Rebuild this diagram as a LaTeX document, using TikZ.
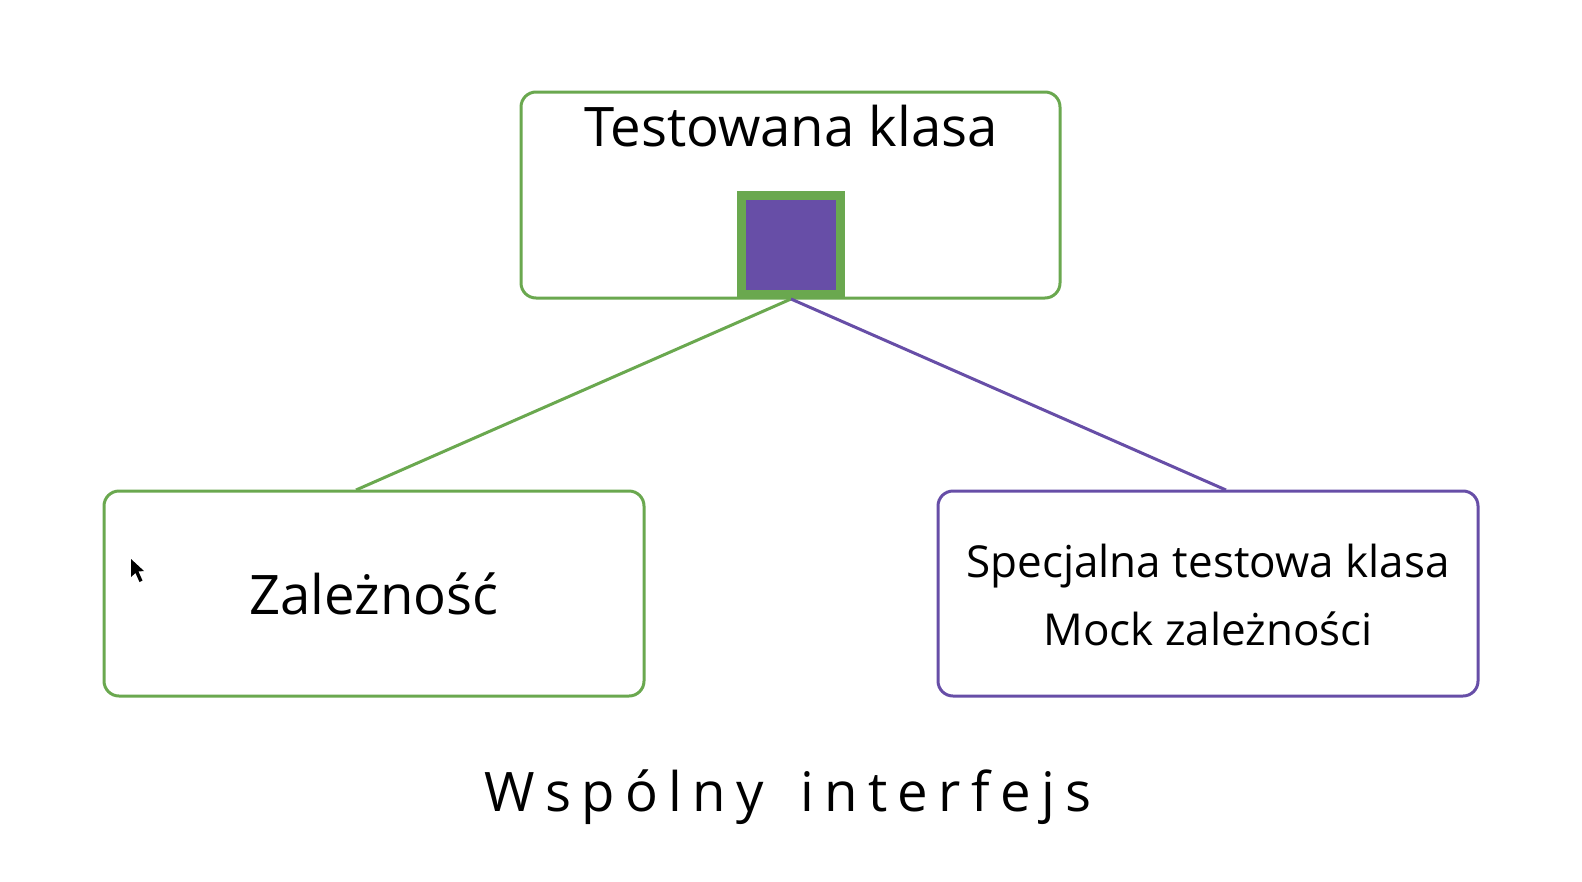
\documentclass[tikz,border=0pt]{standalone}
\usepackage{fontspec}
\setmainfont{Open Sans}
\newfontfamily\spacedfont[LetterSpace=19]{Open Sans}
\definecolor{gr}{HTML}{6AA84F}
\definecolor{pu}{HTML}{674EA7}
\begin{document}
\begin{tikzpicture}[x=1pt,y=-1pt,
  boxg/.style={draw=gr,line width=3pt,rounded corners=15pt},
  boxp/.style={draw=pu,line width=3pt,rounded corners=15pt},
  lbl/.style={inner sep=0pt,font=\fontsize{54.5}{66}\selectfont}]
\useasboundingbox (0,0) rectangle (1582,881);
\draw[boxg] (521,92) rectangle (1060,298);
\filldraw[fill=pu,draw=gr,line width=9pt] (741.5,195.5) rectangle (840.5,294.5);
\coordinate (sq) at (791,299);
\draw[boxg] (104,491) rectangle (644,696);
\draw[boxp] (938,491) rectangle (1478,696);
\coordinate (lt) at (356,490);
\coordinate (rt) at (1226,490);
\draw[gr,line width=3pt] (sq) -- (lt);
\draw[pu,line width=3pt] (sq) -- (rt);
\node[lbl] (t1) at (791,126) {Testowana klasa};
\node[lbl] (t2) at (374,594) {Zależność};
\node[inner sep=0pt,font=\fontsize{44}{52}\selectfont] (t3) at (1208,566) {Specjalna testowa klasa};
\node[inner sep=0pt,font=\fontsize{44}{52}\selectfont] (t4) at (1208,629) {Mock zależności};
\node[inner sep=0pt,font=\fontsize{54.5}{66}\spacedfont] (t5) at (788,797) {Wspólny\ \hspace{12pt}interfejs};
\fill[black] (131,559) -- (131,577) -- (135.5,573) -- (139.5,582) -- (142.5,580.5) -- (138.5,571.5) -- (144,571) -- cycle;
\end{tikzpicture}
\end{document}
